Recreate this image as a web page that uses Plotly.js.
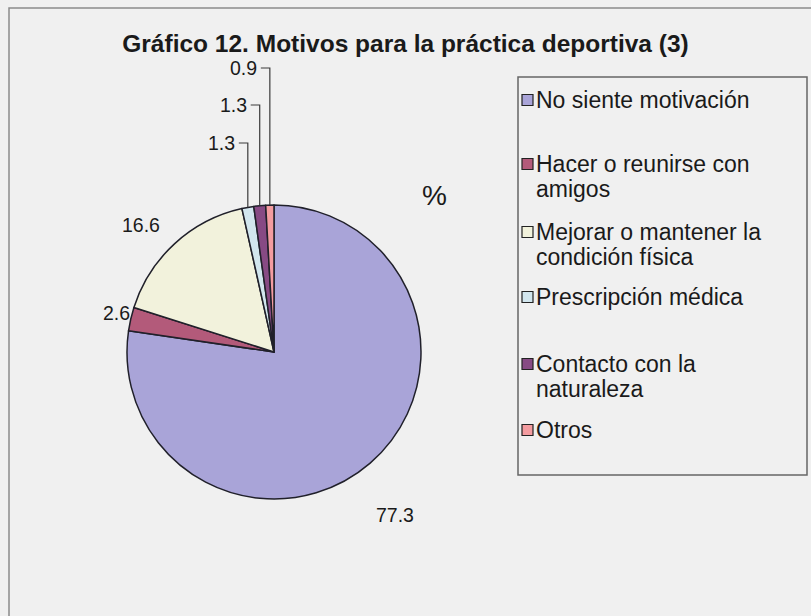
<!DOCTYPE html>
<html><head><meta charset="utf-8">
<script src="https://cdn.plot.ly/plotly-3.0.1.min.js"></script>
<style>html,body{margin:0;padding:0;background:#f0f0f0;} #chart{width:811px;height:616px;}</style>
</head><body><div id="chart"></div>
<script>
// ---- data ----
const categories = ["No siente motivación", "Hacer o reunirse con amigos", "Mejorar o mantener la condición física", "Prescripción médica", "Contacto con la naturaleza", "Otros"];
const legendLabels = ["No siente motivación", "Hacer o reunirse con<br>amigos", "Mejorar o mantener la<br>condición física", "Prescripción médica", "Contacto con la<br>naturaleza", "Otros"];
const values = [77.3, 2.6, 16.6, 1.3, 1.3, 0.9];
const valueLabels = ["77.3", "2.6", "16.6", "1.3", "1.3", "0.9"];
const colors = ["#a9a4d8", "#b35a7a", "#f2f2dc", "#d2e6ee", "#874a84", "#f49ca0"];

// ---- layout constants (pixels) ----
const W = 811, H = 616;
const CX = 274, CY = 352, R = 147;
const FONT = "Liberation Sans, Arial, sans-serif";
const px = x => x / W;
const py = y => 1 - y / H;

const domain = {x: [px(CX - R), px(CX + R)], y: [(H - CY - R) / H, (H - CY + R) / H]};

// label placement: pixel offset from the slice's outer edge (big slices); stacked rows for small ones
const labelOffset = [[25, 52], [-14, -6], [-34, -19], null, null, null];
const smallRowY = [null, null, null, 143, 105, 68];
const LABFS = 19.5;

const total = values.reduce((a, b) => a + b, 0);
const annotations = [];
const shapes = [];
let cum = 0;
values.forEach((v, i) => {
  const theta = 2 * Math.PI * (cum + v / 2) / total;
  cum += v;
  const ex = CX + R * Math.sin(theta), ey = CY - R * Math.cos(theta);
  if (labelOffset[i] !== null) {
    annotations.push({x: px(ex + labelOffset[i][0]), y: py(ey + labelOffset[i][1]), xref: 'paper', yref: 'paper',
      text: valueLabels[i], showarrow: false, xanchor: 'center', yanchor: 'middle',
      font: {family: FONT, size: LABFS, color: '#1a1a1a'}});
  } else {
    const rowY = smallRowY[i];
    annotations.push({x: px(ex - 11), y: py(rowY), xref: 'paper', yref: 'paper', text: valueLabels[i], showarrow: false,
      xanchor: 'right', yanchor: 'middle', font: {family: FONT, size: LABFS, color: '#1a1a1a'}});
    shapes.push({type: 'path', xref: 'paper', yref: 'paper',
      path: `M ${px(ex - 9)} ${py(rowY)} L ${px(ex)} ${py(rowY)} L ${px(ex)} ${py(ey)}`,
      line: {color: '#3a3a3a', width: 1.2}});
  }
});

// "%" sign
annotations.push({x: px(434), y: py(196), xref: 'paper', yref: 'paper', text: '%', showarrow: false,
  xanchor: 'center', yanchor: 'middle', font: {family: FONT, size: 28, color: '#1a1a1a'}});

// legend box
const LB = {x0: 518, y0: 77, x1: 807, y1: 475};
shapes.push({type: 'rect', xref: 'paper', yref: 'paper', x0: px(LB.x0), x1: px(LB.x1), y0: py(LB.y0), y1: py(LB.y1),
  line: {color: '#666', width: 1.5}, fillcolor: 'rgba(0,0,0,0)'});
const legendRowY = [100, 164, 232, 297, 364, 430];
const LFS = 23, LLINE = 25;
legendLabels.forEach((t, i) => {
  const cy = legendRowY[i];
  shapes.push({type: 'rect', xref: 'paper', yref: 'paper', x0: px(522), x1: px(533), y0: py(cy - 5.5), y1: py(cy + 5.5),
    line: {color: '#222', width: 1.2}, fillcolor: colors[i]});
  t.split('<br>').forEach((line, k) => {
    annotations.push({x: px(534), y: py(cy + k * LLINE), xref: 'paper', yref: 'paper', text: line, showarrow: false,
      xanchor: 'left', yanchor: 'middle', align: 'left', font: {family: FONT, size: LFS, color: '#1a1a1a'}});
  });
});

// outer chart border (left and top)
shapes.push({type: 'path', xref: 'paper', yref: 'paper', path: `M ${px(9)} ${py(616)} L ${px(9)} ${py(8)} L ${px(811)} ${py(8)}`,
  line: {color: '#8a8a8a', width: 1.5}});

const trace = {
  type: 'pie', labels: categories, values: values, sort: false, direction: 'clockwise', rotation: 0,
  textinfo: 'none', hoverinfo: 'label+value', domain: domain,
  marker: {colors: colors, line: {color: '#20202a', width: 1.5}}
};

const layout = {
  width: W, height: H, margin: {l: 0, r: 0, t: 0, b: 0},
  paper_bgcolor: '#f0f0f0', plot_bgcolor: '#f0f0f0', showlegend: false,
  title: {text: 'Gráfico 12. Motivos para la práctica deportiva (3)', x: 0.5, xanchor: 'center', y: 1 - 43 / H, yanchor: 'middle',
    font: {family: FONT, size: 24.5, color: '#1a1a1a', weight: 'bold'}},
  annotations: annotations, shapes: shapes
};

Plotly.newPlot('chart', [trace], layout, {displayModeBar: false, staticPlot: true});
</script>
</body></html>
